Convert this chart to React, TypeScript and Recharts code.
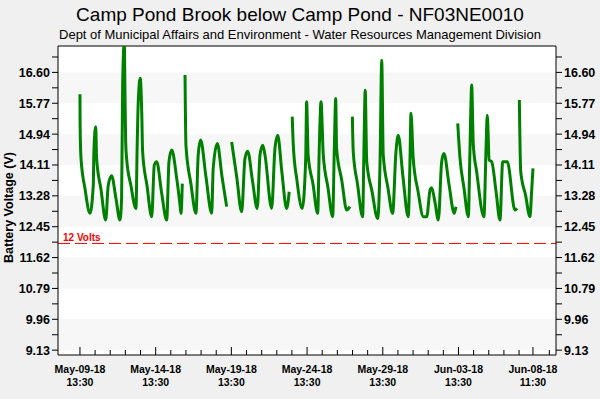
import React from 'react';
import { LineChart, Line, XAxis, YAxis, ReferenceLine, ReferenceArea, CartesianGrid } from 'recharts';

const title = 'Camp Pond Brook below Camp Pond - NF03NE0010';
const subtitle = 'Dept of Municipal Affairs and Environment - Water Resources Management Division';
const yLabel = 'Battery Voltage (V)';

// time in days since May-09-18 13:30, null volts = gap in the record
const days = [
  0.0, 0.01, 0.07, 0.33, 0.66, 0.88, 0.92, 1.04, 1.1, 1.39, 1.7, 1.87, 2.09, 2.38, 2.64,
  2.75, 2.82, 2.93, 2.97, 3.02, 3.08, 3.37, 3.7, 3.78, 3.85, 3.98, 4.08, 4.14, 4.43, 4.74,
  4.91, 5.07, 5.38, 5.73, 5.88, 6.06, 6.39, 6.61, 6.67, 6.76, 6.84, 6.94, 7.0, 7.33, 7.66,
  7.81, 7.97, 8.32, 8.7, 8.8, 9.07, 9.38, 9.69, 9.84, 10.02, 10.35, 10.68, 10.9, 11.08, 11.39,
  11.71, 11.89, 12.07, 12.22, 12.66, 12.88, 13.06, 13.34, 13.65, 13.82, 13.92, 14.02, 14.09, 14.33, 14.68,
  14.91, 14.97, 15.07, 15.39, 15.7, 15.81, 15.92, 16.07, 16.38, 16.69, 16.8, 16.89, 16.95, 17.29, 17.62,
  17.83, 17.91, 17.99, 18.05, 18.33, 18.67, 18.76, 18.84, 18.94, 19.29, 19.66, 19.82, 19.93, 20.03, 20.34,
  20.65, 20.87, 21.02, 21.33, 21.68, 21.8, 21.86, 22.01, 22.33, 22.68, 22.9, 23.12, 23.23, 23.45, 23.67,
  23.89, 24.04, 24.37, 24.72, 24.83, 24.89, 24.95, 25.1, 25.36, 25.65, 25.76, 25.87, 25.98, 26.2, 26.68,
  26.82, 26.9, 27.03, 27.19, 27.48, 27.74, 27.92, 28.22, 28.73, 28.88, 28.95, 29.02, 29.11, 29.43, 29.72,
  29.83, 29.92,
];
const volts = [
  16.01, 15.2, 14.29, 13.48, 12.81, 13.57, 14.46, 15.14, 14.29, 13.45, 12.63, 13.57, 13.82, 13.2, 12.63,
  13.21, 16.3, 17.4, 16.17, 14.73, 14.29, 13.55, 12.94, 14.64, 15.81, 16.44, 15.54, 14.46, 13.55, 12.72,
  14.11, 14.2, 13.4, 12.63, 14.2, 14.51, 13.75, 13.03, 12.81, 13.61, null, 16.53, 14.64, 13.6, 12.81,
  14.38, 14.78, 13.8, 12.81, 14.02, 14.69, 13.8, 12.99, null, 14.73, 13.8, 12.85, 14.29, 14.48, 13.7,
  12.94, 14.38, 14.64, 14.38, 12.94, 14.56, 14.91, 13.9, 12.94, 13.39, null, 15.41, 14.64, 13.7, 12.94,
  14.29, 15.81, 14.38, 13.6, 12.81, 14.64, 15.81, 14.38, 13.5, 12.72, 14.56, 15.9, 14.56, 13.7, 12.9,
  12.99, null, 15.41, 14.46, 13.6, 12.72, 14.64, 16.12, 14.2, 13.4, 12.67, 14.2, 16.93, 14.38, 13.5,
  12.81, 14.46, 14.91, 13.8, 12.72, 14.29, 15.5, 14.29, 13.4, 12.72, 12.72, 13.43, 13.5, 13.1, 12.63,
  14.2, 14.42, 13.6, 12.81, 12.99, null, 15.23, 14.29, 13.5, 12.72, 14.56, 16.26, 14.64, 13.93, 12.72,
  14.56, 15.45, 14.24, 14.2, 13.4, 12.63, 14.2, 14.2, 12.9, 12.94, null, 15.86, 13.93, 13.3, 12.72,
  13.39, 14.02,
];

const xMajorTicks = [0, 5, 10, 15, 20, 25, 29.917];
const xMajorDates = ['May-09-18', 'May-14-18', 'May-19-18', 'May-24-18', 'May-29-18', 'Jun-03-18', 'Jun-08-18'];
const xMajorTimes = ['13:30', '13:30', '13:30', '13:30', '13:30', '13:30', '11:30'];
const xMinorTicks = [1, 2, 3, 4, 6, 7, 8, 9, 11, 12, 13, 14, 16, 17, 18, 19, 21, 22, 23, 24, 26, 27, 28, 29, 31];

const yMajorTicks = [9.13, 9.96, 10.79, 11.62, 12.45, 13.28, 14.11, 14.94, 15.77, 16.6];
const yMinorTicks = [9.545, 10.375, 11.205, 12.035, 12.865, 13.695, 14.525, 15.355, 16.185, 17.015];
const bandLows = [9.13, 10.79, 12.45, 14.11, 15.77];
const bandHighs = [9.96, 11.62, 13.28, 14.94, 16.6];
const thresholdVolts = 12;
const thresholdText = '12 Volts';

const xDomain = [-1.45, 31.44];
const yDomain = [9.0, 17.31];

const data = days.map((d, i) => ({ day: d, v: volts[i] }));
const xTicks = [...xMajorTicks, ...xMinorTicks].sort((a, b) => a - b);
const yTicks = [...yMajorTicks, ...yMinorTicks].sort((a, b) => a - b);

const FONT = "'Liberation Sans', Arial, sans-serif";

const yFormat = (v: number) => (yMajorTicks.some((t) => Math.abs(t - v) < 1e-6) ? v.toFixed(2) : '');

function XTick(props: any) {
  const { x, y, payload } = props;
  const idx = xMajorTicks.indexOf(payload.value);
  const major = idx >= 0;
  return (
    <g>
      <line x1={x} x2={x} y1={y} y2={y - (major ? 8 : 5)} stroke="#000" />
      {major && (
        <text textAnchor="middle" fontSize={10.5} fontWeight="bold" fill="#000">
          <tspan x={x} y={y + 18}>{xMajorDates[idx]}</tspan>
          <tspan x={x} y={y + 31}>{xMajorTimes[idx]}</tspan>
        </text>
      )}
    </g>
  );
}

const yTickStyle = { fontSize: 12.5, fontWeight: 'bold', fill: '#000' };

export default function App() {
  return (
    <div style={{ position: 'absolute', left: 0, top: 0, width: 600, height: 399, background: '#f0f0f0', fontFamily: FONT }}>
      <LineChart width={600} height={399} data={data} margin={{ top: 46, right: 0, bottom: 0, left: 0 }}>
        <CartesianGrid fill="#ffffff" horizontal={false} vertical={false} yAxisId="left" />
        <XAxis
          dataKey="day"
          type="number"
          domain={xDomain}
          ticks={xTicks}
          interval={0}
          allowDataOverflow
          height={44}
          tickSize={0}
          tickMargin={0}
          tick={<XTick />}
          axisLine={{ stroke: '#000' }}
        />
        <YAxis
          yAxisId="left"
          type="number"
          domain={yDomain}
          ticks={yTicks}
          interval={0}
          allowDataOverflow
          width={58}
          tickSize={6}
          tickMargin={2}
          tickFormatter={yFormat}
          tick={yTickStyle}
          tickLine={{ stroke: '#000' }}
          axisLine={{ stroke: '#000' }}
        />
        <YAxis
          yAxisId="right"
          orientation="right"
          type="number"
          domain={yDomain}
          ticks={yTicks}
          interval={0}
          allowDataOverflow
          width={44}
          tickSize={6}
          tickMargin={2}
          tickFormatter={yFormat}
          tick={yTickStyle}
          tickLine={{ stroke: '#000' }}
          axisLine={{ stroke: '#000' }}
        />
        {bandLows.map((lo, i) => (
          <ReferenceArea key={i} yAxisId="left" y1={lo} y2={bandHighs[i]} fill="#f7f7f7" fillOpacity={1} stroke="none" />
        ))}
        <ReferenceLine
          yAxisId="left"
          y={thresholdVolts}
          stroke="#ff0000"
          strokeDasharray="12 5"
          label={{
            content: (p: any) => (
              <text x={p.viewBox.x + 5} y={p.viewBox.y - 2} fill="#ff0000" fontSize={10} fontWeight="bold">
                {thresholdText}
              </text>
            ),
          }}
        />
        <ReferenceLine yAxisId="left" y={yDomain[1]} stroke="#000" />
        <Line
          yAxisId="left"
          type="monotone"
          dataKey="v"
          stroke="#008000"
          strokeWidth={3}
          dot={false}
          activeDot={false}
          connectNulls={false}
          isAnimationActive={false}
        />
      </LineChart>
      <svg width={600} height={399} style={{ position: 'absolute', left: 0, top: 0, pointerEvents: 'none' }}>
        <text x={300} y={21} textAnchor="middle" fontSize={19} fill="#000">{title}</text>
        <text x={300} y={39} textAnchor="middle" fontSize={13} fill="#000">{subtitle}</text>
        <text transform="translate(12.5,207.5) rotate(-90)" textAnchor="middle" fontSize={12.5} fontWeight="bold" fill="#000">
          {yLabel}
        </text>
      </svg>
    </div>
  );
}
